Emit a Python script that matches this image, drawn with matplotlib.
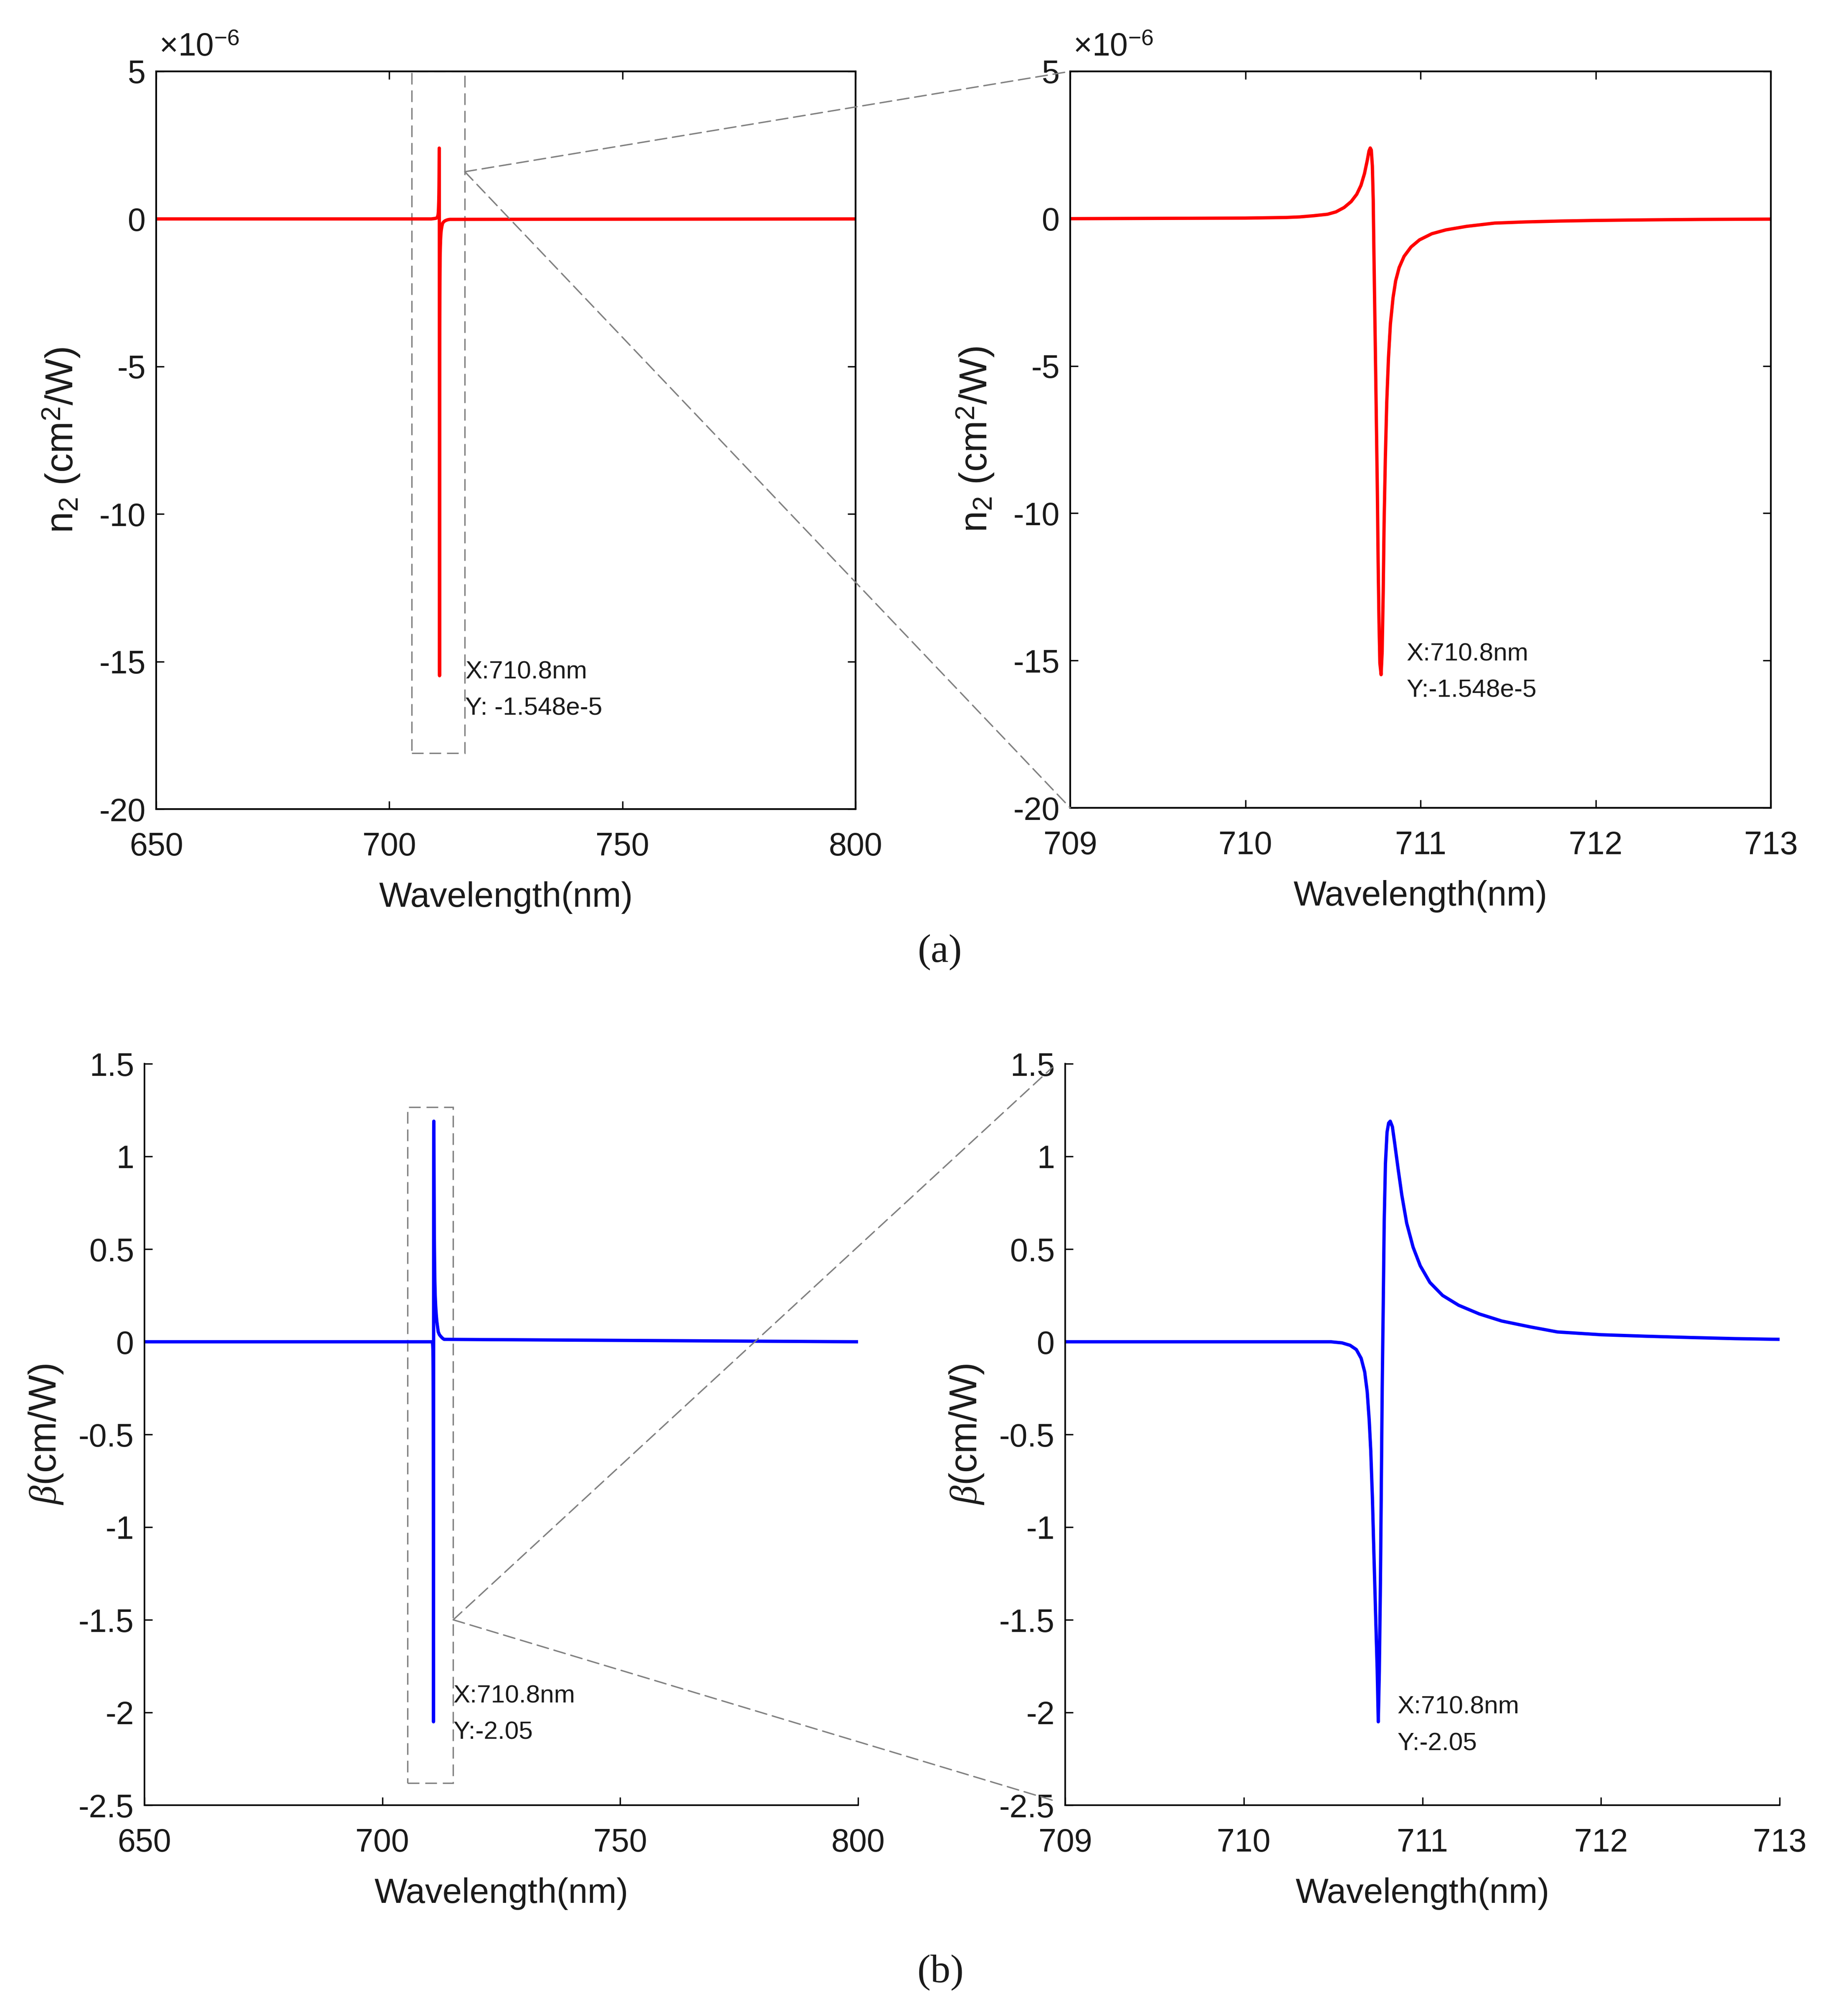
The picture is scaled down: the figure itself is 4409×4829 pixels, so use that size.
import matplotlib
matplotlib.use("Agg")
import matplotlib.pyplot as plt
from matplotlib.patches import Rectangle, ConnectionPatch

plt.rcParams['font.family'] = 'Liberation Sans'
plt.rcParams['mathtext.fontset'] = 'custom'
plt.rcParams['mathtext.rm'] = 'Liberation Sans'
plt.rcParams['mathtext.it'] = 'Liberation Serif:italic'
plt.rcParams['axes.unicode_minus'] = False

# n2 curve, values in units of 1e-6 cm^2/W
wl_n2 = [650.0, 709.0, 709.5, 710.0, 710.23, 710.31, 710.39, 710.469, 710.517,
         710.564, 710.604, 710.636, 710.66, 710.68, 710.696, 710.706, 710.713,
         710.719, 710.725, 710.73, 710.734, 710.739, 710.744, 710.749, 710.754,
         710.758, 710.763, 710.768, 710.775, 710.781, 710.787, 710.792, 710.799,
         710.807, 710.817, 710.828, 710.843, 710.858, 710.878, 710.906, 710.946,
         710.994, 711.065, 711.145, 711.264, 711.423, 711.6, 711.8, 712.0,
         712.3, 712.6, 713.0, 800.0]
n2 = [0.0, 0.0, 0.01, 0.02, 0.04, 0.06, 0.10, 0.15, 0.23,
      0.38, 0.58, 0.83, 1.13, 1.53, 1.98, 2.30, 2.40,
      2.33, 1.79, 0.64, -1.15, -3.20, -5.24, -7.29, -9.46,
      -11.64, -13.68, -15.09, -15.48, -14.70, -12.66, -10.36, -8.18,
      -6.27, -4.73, -3.58, -2.69, -2.11, -1.66, -1.28, -0.96,
      -0.72, -0.51, -0.38, -0.26, -0.15, -0.11, -0.08, -0.06,
      -0.04, -0.025, -0.015, 0.0]

# beta curve, cm/W
wl_beta = [650.0, 709.0, 710.0, 710.353, 710.487, 710.55, 710.595, 710.63,
           710.657, 710.677, 710.691, 710.702, 710.711, 710.72, 710.729,
           710.738, 710.747, 710.753, 710.759, 710.765, 710.77, 710.775,
           710.781, 710.786, 710.793, 710.802, 710.811, 710.82, 710.832,
           710.845, 710.863, 710.885, 710.912, 710.948, 710.988, 711.042,
           711.113, 711.203, 711.319, 711.444, 711.605, 711.756, 712.0,
           712.25, 712.5, 712.75, 713.0, 800.0]
beta = [0.0, 0.0, 0.0, 0.0, 0.0, -0.006, -0.019, -0.042,
        -0.089, -0.163, -0.27, -0.42, -0.59, -0.84, -1.16,
        -1.47, -1.77, -2.05, -1.77, -1.30, -0.78, -0.25,
        0.22, 0.64, 0.96, 1.13, 1.18, 1.19, 1.16,
        1.07, 0.94, 0.79, 0.64, 0.51, 0.41, 0.32,
        0.25, 0.197, 0.15, 0.112, 0.08, 0.053, 0.038,
        0.03, 0.023, 0.017, 0.013, 0.0]

W, H = 4409, 4829
fig = plt.figure(figsize=(W / 300, H / 300), dpi=300)


def px_axes(left, right, top, bottom):
    return fig.add_axes([left / W, 1 - bottom / H, (right - left) / W, (bottom - top) / H])


ax_a1 = px_axes(374, 2049, 171, 1938)
ax_a2 = px_axes(2563, 4241, 171, 1935)
ax_b1 = px_axes(346, 2055, 2548, 4324)
ax_b2 = px_axes(2551, 4262, 2548, 4324)

ink = '#1a1a1a'
dash = (0, (8.4, 4.2))
grey = '#808080'

for ax, full in [(ax_a1, True), (ax_a2, False)]:
    ax.plot(wl_n2, n2, color='red', lw=1.9)
    ax.set_ylim(-20, 5)
    ax.set_yticks([-20, -15, -10, -5, 0, 5])
    if full:
        ax.set_xlim(650, 800)
        ax.set_xticks([650, 700, 750, 800])
    else:
        ax.set_xlim(709, 713)
        ax.set_xticks([709, 710, 711, 712, 713])
    ax.tick_params(direction='in', top=True, right=True, length=4.5, width=0.8,
                   labelsize=18.5, labelcolor=ink)
    ax.tick_params(axis='x', pad=13)
    ax.tick_params(axis='y', pad=6)
    for s in ax.spines.values():
        s.set_linewidth(1.0)
    ax.set_xlabel('Wavelength(nm)', fontsize=20, labelpad=11, color=ink)
    ax.set_ylabel(r'n$_2$ (cm$^2$/W)', fontsize=22, labelpad=10, color=ink)
    ax.text(0.004, 1.012, r'$\times$10$^{-6}$', transform=ax.transAxes,
            ha='left', va='bottom', fontsize=18.5, color=ink)

for ax, full in [(ax_b1, True), (ax_b2, False)]:
    ax.plot(wl_beta, beta, color='blue', lw=1.9)
    ax.set_ylim(-2.5, 1.5)
    ax.set_yticks([-2.5, -2, -1.5, -1, -0.5, 0, 0.5, 1, 1.5])
    ax.set_yticklabels(['-2.5', '-2', '-1.5', '-1', '-0.5', '0', '0.5', '1', '1.5'])
    if full:
        ax.set_xlim(650, 800)
        ax.set_xticks([650, 700, 750, 800])
    else:
        ax.set_xlim(709, 713)
        ax.set_xticks([709, 710, 711, 712, 713])
    ax.spines['top'].set_visible(False)
    ax.spines['right'].set_visible(False)
    ax.tick_params(direction='in', length=4.5, width=0.8, labelsize=18.5,
                   labelcolor=ink)
    ax.tick_params(axis='x', pad=13)
    ax.tick_params(axis='y', pad=6)
    for s in ax.spines.values():
        s.set_linewidth(0.9)
    ax.set_xlabel('Wavelength(nm)', fontsize=20, labelpad=11, color=ink)
    ax.set_ylabel(r'$\beta$(cm/W)', fontsize=22, labelpad=8, color=ink)

# data tips
ann_kw = dict(fontsize=14.5, color=ink, ha='left', va='center', linespacing=1.75)
ax_a1.text(716.3, -15.97, 'X:710.8nm\nY: -1.548e-5', **ann_kw)
ax_a2.text(710.92, -15.4, 'X:710.8nm\nY:-1.548e-5', **ann_kw)
ax_b1.text(714.9, -2.01, 'X:710.8nm\nY:-2.05', **ann_kw)
ax_b2.text(710.86, -2.07, 'X:710.8nm\nY:-2.05', **ann_kw)

# zoom boxes and connector lines
ax_a1.add_patch(Rectangle((704.8, -18.1), 11.4, 23.1, fill=False, ec=grey,
                          lw=0.8, ls=dash, clip_on=False))
ax_b1.add_patch(Rectangle((705.3, -2.38), 9.6, 3.645, fill=False, ec=grey,
                          lw=0.8, ls=dash, clip_on=False))

for xyA, axA, axB, ends in [((716.2, 1.6), ax_a1, ax_a2, [(0, 1), (0, 0)]),
                            ((714.9, -1.5), ax_b1, ax_b2, [(-0.018, 0.995), (-0.012, 0.005)])]:
    for xyB in ends:
        con = ConnectionPatch(xyA=xyA, coordsA=axA.transData, xyB=xyB,
                              coordsB=axB.transAxes, color=grey, lw=0.8, ls=dash)
        fig.add_artist(con)

fig.text(2251 / W, 1 - 2281 / H, '(a)', family='Liberation Serif', fontsize=23,
         ha='center', va='center', color=ink)
fig.text(2253 / W, 1 - 4725 / H, '(b)', family='Liberation Serif', fontsize=23,
         ha='center', va='center', color=ink)

fig.savefig('out.png', dpi=300)
